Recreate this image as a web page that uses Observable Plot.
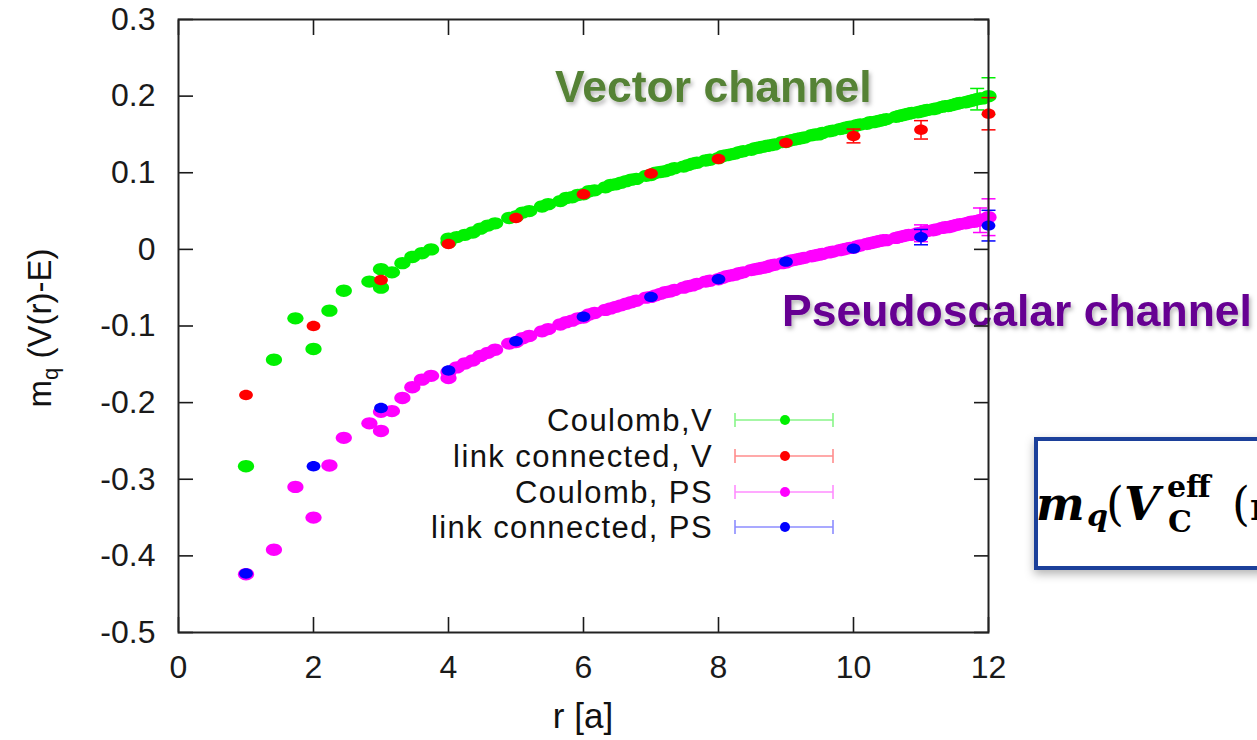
<!DOCTYPE html>
<html>
<head>
<meta charset="utf-8">
<script src="https://cdn.jsdelivr.net/npm/d3@7"></script>
<script src="https://cdn.jsdelivr.net/npm/@observablehq/plot@0.6"></script>
<style>
html, body { margin: 0; padding: 0; background: #fff; overflow: hidden; }
#wrap { position: relative; width: 1257px; height: 740px; overflow: hidden; background: #fff; }
#under { position: absolute; left: 0; top: 0; font-family: 'Liberation Sans', Arial, sans-serif; }
#chart { position: absolute; left: 0; top: 0; }
</style>
</head>
<body>
<div id="wrap">
<svg id="under" width="1257" height="740">
  <defs>
    <filter id="tshadow" x="-10%" y="-30%" width="120%" height="170%">
      <feDropShadow dx="2" dy="3" stdDeviation="2" flood-color="#000" flood-opacity="0.28"/>
    </filter>
    <filter id="bshadow" x="-10%" y="-20%" width="130%" height="150%">
      <feDropShadow dx="0" dy="4" stdDeviation="5" flood-color="#000" flood-opacity="0.3"/>
    </filter>
  </defs>
  <!-- annotations -->
  <text x="555" y="102" font-size="44.5" font-weight="bold" fill="#548235" filter="url(#tshadow)">Vector channel</text>
  <text x="782" y="326" font-size="44.5" font-weight="bold" fill="#660092" filter="url(#tshadow)">Pseudoscalar channel</text>
  <!-- formula box -->
  <rect x="1036" y="439" width="320" height="129" fill="#fff" stroke="#1e3f9a" stroke-width="4" filter="url(#bshadow)"/>
  <text y="520" font-family="'DejaVu Serif', 'Liberation Serif', serif" fill="#000">
    <tspan x="1036" y="520" font-size="46" font-style="italic" font-weight="bold">m</tspan><tspan x="1087" y="526" font-size="30" font-style="italic" font-weight="bold">q</tspan><tspan x="1106" y="520" font-size="46">(</tspan><tspan x="1124" y="520" font-size="46" font-style="italic" font-weight="bold">V</tspan><tspan x="1167" y="497" font-size="30" font-weight="bold">eff</tspan><tspan x="1168" y="532" font-size="30" font-weight="bold">C</tspan><tspan x="1232" y="520" font-size="46">(</tspan><tspan x="1250" y="520" font-size="40" font-weight="bold">r</tspan>
  </text>
  <!-- axis titles -->
  <text transform="translate(51,328) rotate(-90)" text-anchor="middle" font-size="33" fill="#111">m<tspan font-size="22" dy="7">q</tspan><tspan dy="-7"> (V(r)-E)</tspan></text>
  <text x="583" y="728" text-anchor="middle" font-size="35" fill="#111">r [a]</text>
  <!-- legend -->
  <g id="legend" font-size="31" letter-spacing="1.4" fill="#111" text-anchor="end"></g>
</svg>
<div id="chart"></div>
</div>
<script>
// ---------- data ----------
const xTicks = [0, 2, 4, 6, 8, 10, 12];
const xTickLabels = ["0", "2", "4", "6", "8", "10", "12"];
const yTicks = [-0.5, -0.4, -0.3, -0.2, -0.1, 0, 0.1, 0.2, 0.3];
const yTickLabels = ["-0.5", "-0.4", "-0.3", "-0.2", "-0.1", "0", "0.1", "0.2", "0.3"];

const seriesNames = ["Coulomb,V", "link connected, V", "Coulomb, PS", "link connected, PS"];
const seriesColors = ["#00f000", "#ff0000", "#ff00ff", "#0000ff"];
const legendLineColors = ["#88f588", "#ff8c8c", "#ff8cff", "#8c8cff"];

// Coulomb gauge, distances r = sqrt(n)
const coulombR = [
  1, 1.414, 1.732, 2, 2.236, 2.449, 2.828, 3, 3, 3.162,
  3.317, 3.464, 3.606, 3.742, 4, 4, 4.123, 4.243, 4.359, 4.472,
  4.583, 4.690, 4.899, 5, 5.099, 5.196, 5.385, 5.477, 5.657, 5.745,
  5.831, 5.916, 6, 6.083, 6.164, 6.325, 6.403, 6.481, 6.557, 6.633,
  6.708, 6.782, 6.928, 7, 7.071, 7.141, 7.211, 7.280, 7.348, 7.483,
  7.550, 7.616, 7.681, 7.810, 7.874, 8, 8.062, 8.124, 8.185, 8.246,
  8.307, 8.367, 8.485, 8.544, 8.602, 8.660, 8.718, 8.775, 8.832, 8.944,
  9, 9.055, 9.110, 9.165, 9.220, 9.274, 9.381, 9.434, 9.487, 9.539,
  9.644, 9.695, 9.798, 9.849, 9.899, 9.950, 10, 10.050, 10.100, 10.198,
  10.247, 10.296, 10.344, 10.392, 10.440, 10.488, 10.630, 10.677, 10.724, 10.770,
  10.817, 10.863, 10.954, 11, 11.045, 11.091, 11.180, 11.225, 11.314, 11.358,
  11.402, 11.446, 11.489, 11.533, 11.576, 11.662, 11.705, 11.747, 11.790, 11.832,
  11.874, 11.916, 12
];
const coulombV = [
  -0.283, -0.144, -0.090, -0.130, -0.080, -0.054, -0.042, -0.026, -0.050, -0.030,
  -0.018, -0.010, -0.005, 0.000, 0.009, 0.014, 0.016, 0.019, 0.022, 0.027,
  0.031, 0.034, 0.041, 0.043, 0.048, 0.050, 0.056, 0.059, 0.063, 0.067,
  0.068, 0.071, 0.072, 0.076, 0.077, 0.081, 0.084, 0.085, 0.087, 0.089,
  0.091, 0.092, 0.096, 0.097, 0.100, 0.101, 0.102, 0.104, 0.106, 0.108,
  0.110, 0.112, 0.113, 0.116, 0.117, 0.119, 0.122, 0.123, 0.124, 0.125,
  0.127, 0.128, 0.130, 0.132, 0.133, 0.134, 0.135, 0.136, 0.137, 0.140,
  0.140, 0.142, 0.143, 0.144, 0.145, 0.146, 0.149, 0.150, 0.150, 0.152,
  0.154, 0.155, 0.157, 0.158, 0.159, 0.160, 0.160, 0.162, 0.163, 0.164,
  0.166, 0.166, 0.167, 0.168, 0.169, 0.170, 0.173, 0.174, 0.175, 0.176,
  0.177, 0.178, 0.179, 0.180, 0.181, 0.182, 0.183, 0.184, 0.186, 0.187,
  0.187, 0.188, 0.189, 0.190, 0.191, 0.192, 0.193, 0.194, 0.195, 0.196,
  0.197, 0.197, 0.200
];
const coulombPS = [
  -0.424, -0.392, -0.310, -0.350, -0.282, -0.246, -0.227, -0.237, -0.212, -0.211,
  -0.194, -0.180, -0.170, -0.165, -0.168, -0.160, -0.154, -0.149, -0.145, -0.139,
  -0.135, -0.131, -0.123, -0.121, -0.116, -0.113, -0.107, -0.104, -0.098, -0.095,
  -0.093, -0.090, -0.089, -0.085, -0.083, -0.079, -0.077, -0.075, -0.073, -0.071,
  -0.069, -0.067, -0.063, -0.062, -0.060, -0.058, -0.056, -0.055, -0.053, -0.050,
  -0.048, -0.047, -0.045, -0.042, -0.041, -0.039, -0.037, -0.035, -0.034, -0.033,
  -0.031, -0.030, -0.027, -0.026, -0.025, -0.024, -0.023, -0.021, -0.020, -0.018,
  -0.017, -0.015, -0.014, -0.013, -0.012, -0.011, -0.009, -0.008, -0.007, -0.006,
  -0.004, -0.003, -0.001, 0.000, 0.001, 0.002, 0.002, 0.004, 0.005, 0.007,
  0.008, 0.009, 0.010, 0.011, 0.012, 0.012, 0.015, 0.016, 0.017, 0.018,
  0.019, 0.019, 0.021, 0.021, 0.023, 0.024, 0.025, 0.026, 0.028, 0.029,
  0.029, 0.030, 0.031, 0.032, 0.033, 0.034, 0.035, 0.036, 0.036, 0.037,
  0.038, 0.039, 0.042
];
// visible Coulomb error bars
const coulombVErrR = [11.832, 12];
const coulombVErrVal = [0.196, 0.200];
const coulombVErr = [0.014, 0.024];
const coulombPSErrR = [11, 11.874, 12];
const coulombPSErrVal = [0.021, 0.038, 0.042];
const coulombPSErr = [0.011, 0.016, 0.024];

// link connected (on-axis, integer r)
const linkR = [1, 2, 3, 4, 5, 6, 7, 8, 9, 10, 11, 12];
const linkV = [-0.190, -0.100, -0.040, 0.007, 0.041, 0.072, 0.099, 0.118, 0.139, 0.148, 0.156, 0.177];
const linkVErr = [0.002, 0.002, 0.003, 0.003, 0.003, 0.004, 0.004, 0.005, 0.006, 0.009, 0.012, 0.021];
const linkPS = [-0.423, -0.283, -0.207, -0.158, -0.120, -0.088, -0.062, -0.039, -0.016, 0.001, 0.016, 0.031];
const linkPSErr = [0.002, 0.002, 0.002, 0.003, 0.003, 0.003, 0.004, 0.004, 0.005, 0.006, 0.010, 0.020];

if (coulombR.length !== coulombV.length || coulombR.length !== coulombPS.length) {
  throw new Error("length mismatch " + coulombR.length + " " + coulombV.length + " " + coulombPS.length);
}

// ---------- tables ----------
const cV = coulombR.map((r, i) => ({r, v: coulombV[i]}));
const cPS = coulombR.map((r, i) => ({r, v: coulombPS[i]}));
const cVErr = coulombVErrR.map((r, i) => ({r, v: coulombVErrVal[i], e: coulombVErr[i]}));
const cPSErr = coulombPSErrR.map((r, i) => ({r, v: coulombPSErrVal[i], e: coulombPSErr[i]}));
const lV = linkR.map((r, i) => ({r, v: linkV[i], e: linkVErr[i]}));
const lPS = linkR.map((r, i) => ({r, v: linkPS[i], e: linkPSErr[i]}));

// gnuplot-like filled point, slightly wider than tall
const ellipseSymbol = {
  draw(ctx, size) {
    const r = Math.sqrt(size / Math.PI);
    const rx = r * 1.25, ry = r * 0.95, k = 0.5523;
    ctx.moveTo(rx, 0);
    ctx.bezierCurveTo(rx, ry * k, rx * k, ry, 0, ry);
    ctx.bezierCurveTo(-rx * k, ry, -rx, ry * k, -rx, 0);
    ctx.bezierCurveTo(-rx, -ry * k, -rx * k, -ry, 0, -ry);
    ctx.bezierCurveTo(rx * k, -ry, rx, -ry * k, rx, 0);
    ctx.closePath();
  }
};
const capSymbol = {
  draw(ctx, size) {
    const w = Math.sqrt(size / Math.PI);
    ctx.moveTo(-w, 0);
    ctx.lineTo(w, 0);
  }
};
// error bars smaller than a marker are hidden behind it in the original
const visibleErr = d => d.e >= 0.008;
function errorBars(data, color) {
  return [
    Plot.ruleX(data, {filter: visibleErr, x: "r", y1: d => d.v - d.e, y2: d => d.v + d.e, stroke: color, strokeWidth: 1.5}),
    Plot.dot(data, {filter: visibleErr, x: "r", y: d => d.v + d.e, symbol: capSymbol, r: 7, stroke: color, strokeWidth: 1.5, fill: "none"}),
    Plot.dot(data, {filter: visibleErr, x: "r", y: d => d.v - d.e, symbol: capSymbol, r: 7, stroke: color, strokeWidth: 1.5, fill: "none"})
  ];
}
const fmtX = d => xTickLabels[xTicks.indexOf(d)];
const fmtY = d => yTickLabels[yTicks.findIndex(t => Math.abs(t - d) < 1e-9)];

const axisStyle = {fontSize: 32, color: "#1a1a1a", strokeWidth: 1.6, label: null};

const chart = Plot.plot({
  width: 1257,
  height: 740,
  marginLeft: 178,
  marginRight: 269,
  marginTop: 19,
  marginBottom: 108,
  style: {fontFamily: "'Liberation Sans', Arial, sans-serif", background: "transparent", overflow: "visible"},
  x: {domain: [0, 12]},
  y: {domain: [-0.5, 0.3]},
  marks: [
    Plot.axisX({...axisStyle, anchor: "bottom", ticks: xTicks, tickSize: -15, tickPadding: 38, tickFormat: fmtX}),
    Plot.axisX({...axisStyle, anchor: "top", ticks: xTicks, tickSize: -15, tickFormat: () => ""}),
    Plot.axisY({...axisStyle, anchor: "left", ticks: yTicks, tickSize: -15, tickPadding: 38, tickFormat: fmtY}),
    Plot.axisY({...axisStyle, anchor: "right", ticks: yTicks, tickSize: -15, tickFormat: () => ""}),
    Plot.dot(cV, {x: "r", y: "v", r: 6.5, symbol: ellipseSymbol, fill: seriesColors[0]}),
    Plot.dot(cPS, {x: "r", y: "v", r: 6.5, symbol: ellipseSymbol, fill: seriesColors[2]}),
    ...errorBars(cVErr, seriesColors[0]),
    ...errorBars(cPSErr, seriesColors[2]),
    ...errorBars(lV, seriesColors[1]),
    Plot.dot(lV, {x: "r", y: "v", r: 5.5, symbol: ellipseSymbol, fill: seriesColors[1]}),
    ...errorBars(lPS, seriesColors[3]),
    Plot.dot(lPS, {x: "r", y: "v", r: 5.5, symbol: ellipseSymbol, fill: seriesColors[3]}),
    Plot.frame({stroke: "#222", strokeWidth: 2})
  ]
});
document.getElementById("chart").appendChild(chart);

// ---------- legend ----------
const legendRowsY = [420, 456, 492, 527];
const lg = d3.select("#legend");
seriesNames.forEach((name, i) => {
  const cy = legendRowsY[i];
  lg.append("text").attr("x", 713).attr("y", cy + 11).text(name);
  lg.append("line").attr("x1", 735).attr("x2", 833).attr("y1", cy).attr("y2", cy)
    .attr("stroke", legendLineColors[i]).attr("stroke-width", 1.6);
  [735, 833].forEach(x => lg.append("line").attr("x1", x).attr("x2", x).attr("y1", cy - 7).attr("y2", cy + 7)
    .attr("stroke", legendLineColors[i]).attr("stroke-width", 1.6));
  lg.append("circle").attr("cx", 785).attr("cy", cy).attr("r", 5).attr("fill", seriesColors[i]);
});
</script>
</body>
</html>
